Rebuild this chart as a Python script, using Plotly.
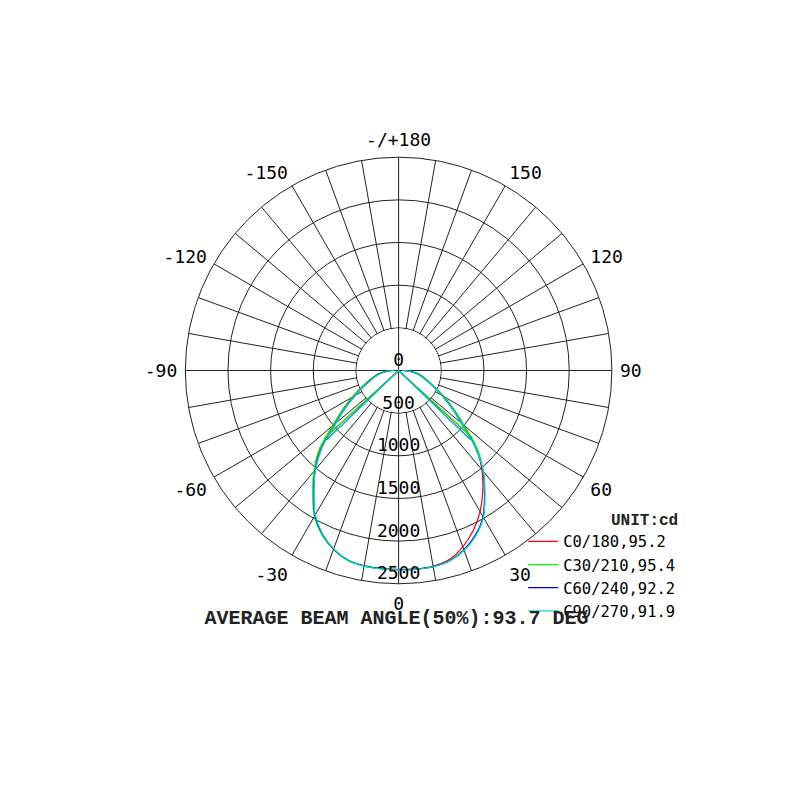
import numpy as np
import plotly.graph_objects as go

# gamma angles (deg), 0 = straight down
gamma = list(range(-90, 95, 5))

planes = ['C0/180', 'C30/210', 'C60/240', 'C90/270']
beam_angles = [95.2, 95.4, 92.2, 91.9]
colors = ['#ff0000', '#00ff00', '#0000cc', '#00e0e0']

c0_180 = [70, 170, 245, 310, 385, 490, 630, 800, 1010, 1310, 1530, 1740, 1965, 2120, 2230, 2300, 2325, 2330,
          2330,
          2335, 2330, 2295, 2200, 2070, 1910, 1720, 1520, 1290, 985, 775, 600, 465, 365, 295, 230, 155, 55]
c30_210 = [65, 165, 240, 305, 380, 485, 625, 795, 1005, 1320, 1545, 1755, 1975, 2125, 2232, 2305, 2328, 2332,
           2335,
           2338, 2335, 2310, 2240, 2135, 1985, 1760, 1545, 1310, 1000, 790, 615, 475, 375, 305, 240, 160, 60]
c60_240 = [55, 150, 225, 290, 360, 460, 590, 760, 960, 1270, 1520, 1735, 1960, 2115, 2228, 2300, 2325, 2332,
           2335,
           2338, 2334, 2308, 2238, 2130, 1980, 1755, 1540, 1275, 960, 760, 590, 455, 355, 285, 220, 145, 50]
c90_270 = [55, 150, 220, 285, 355, 455, 585, 755, 955, 1260, 1515, 1730, 1955, 2112, 2225, 2300, 2328, 2335,
           2338,
           2340, 2336, 2312, 2245, 2140, 1990, 1765, 1545, 1270, 955, 755, 585, 450, 350, 280, 215, 140, 50]
series = [c0_180, c30_210, c60_240, c90_270]

radial_ticks = [0, 500, 1000, 1500, 2000, 2500]
angle_ticks = list(range(0, 360, 10))
angle_labels = {0: '0', 30: '30', 60: '60', 90: '90', 120: '120', 150: '150', 180: '-/+180',
                210: '-150', 240: '-120', 270: '-90', 300: '-60', 330: '-30'}

mono = 'DejaVu Sans Mono'

fig = go.Figure()

# white disc hides the spokes inside the first ring
ring = np.linspace(0, 360, 181)
fig.add_trace(go.Scatterpolar(r=[radial_ticks[1] - 8] * len(ring), theta=ring, mode='lines',
                              fill='toself', fillcolor='white', line=dict(width=0),
                              showlegend=False, hoverinfo='skip'))
# cross through the centre
fig.add_trace(go.Scatterpolar(r=[500, 0, 500, None, 500, 0, 500], theta=[0, 0, 180, None, 90, 90, 270],
                              mode='lines', line=dict(color='#222222', width=1),
                              showlegend=False, hoverinfo='skip'))

for name, beam, col, vals in zip(planes, beam_angles, colors, series):
    fig.add_trace(go.Scatterpolar(r=vals, theta=gamma, mode='lines', name=f'{name},{beam}',
                                  line=dict(color=col, width=1.2, shape='spline', smoothing=0.8)))
for name, beam, col, vals in zip(planes, beam_angles, colors, series):
    half = max(vals) / 2
    fig.add_trace(go.Scatterpolar(r=[half, 0, half], theta=[-beam / 2, 0, beam / 2], mode='lines',
                                  line=dict(color=col, width=1.2), showlegend=False, hoverinfo='skip'))

fig.add_trace(go.Scatterpolar(r=radial_ticks, theta=[0] * len(radial_ticks), mode='text',
                              text=[str(v) for v in radial_ticks], textposition='top center',
                              textfont=dict(family=mono, size=18, color='black'),
                              showlegend=False, hoverinfo='skip'))

fig.update_layout(
    width=800, height=800,
    margin=dict(l=0, r=0, t=0, b=0),
    paper_bgcolor='white',
    showlegend=True,
    polar=dict(
        domain=dict(x=[0.2216, 0.7549], y=[0.2803, 0.8135]),
        bgcolor='white',
        radialaxis=dict(range=[0, 2500], tickvals=radial_ticks[1:-1], showticklabels=False,
                        showline=False, ticks='', gridcolor='#222222', gridwidth=1),
        angularaxis=dict(rotation=-90, direction='counterclockwise',
                         tickvals=angle_ticks, ticktext=[angle_labels.get(a, '') for a in angle_ticks],
                         ticks='outside', ticklen=4, tickcolor='rgba(0,0,0,0)',
                         showline=True, linecolor='#222222', linewidth=1,
                         gridcolor='#222222', gridwidth=1,
                         tickfont=dict(family=mono, size=18, color='black')),
    ),
    title=dict(text='<b>AVERAGE BEAM ANGLE(50%):93.7 DEG</b>', x=0.4856, xanchor='center',
               y=0.239, yanchor='middle',
               font=dict(family='Liberation Mono', size=20, color='#222222')),
    legend=dict(x=0.644, y=0.380, xanchor='left', yanchor='top', bgcolor='rgba(0,0,0,0)',
                title=dict(text='<b>UNIT:cd</b>', side='top right',
                           font=dict(family='Liberation Mono', size=16, color='#222222')),
                font=dict(family=mono, size=15.5, color='black'), tracegroupgap=0),
)

fig.write_html('out.html')
